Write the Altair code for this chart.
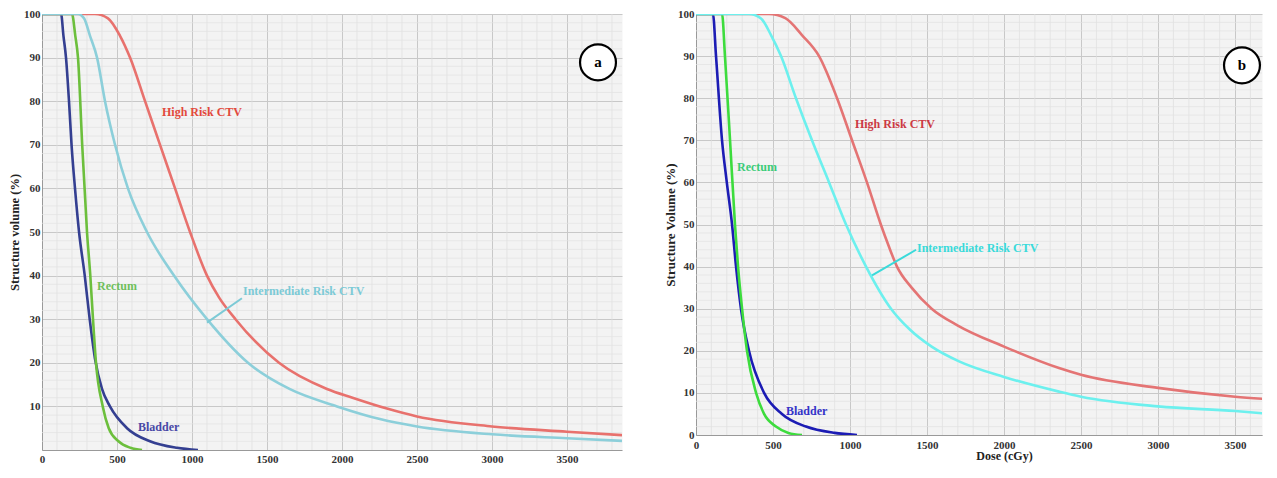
import altair as alt
import pandas as pd

# ---------------- Panel a data (dose cGy, structure volume %) ----------------
A_BLADDER_DOSE = [0, 127, 143, 160, 180, 197, 220, 247, 285, 318, 353, 400, 453, 567, 720, 900, 1040]
A_BLADDER_VOL = [100, 100, 95, 90, 80, 70, 60, 50, 40, 30, 21, 14, 10, 5, 2, 0.5, 0]
A_RECTUM_DOSE = [0, 200, 222, 240, 268, 300, 322, 340, 360, 405, 445, 510, 590, 667]
A_RECTUM_VOL = [100, 100, 95, 90, 70, 50, 40, 30, 20, 10, 5, 2, 0.5, 0]
A_HIGH_DOSE = [0, 353, 440, 520, 587, 687, 787, 887, 987, 1100, 1180, 1290, 1580, 1900, 2070, 2300, 2500, 3000, 3500, 3867]
A_HIGH_VOL = [100, 100, 99, 95, 90, 80, 70, 60, 50, 40, 35, 30, 20, 14, 12, 9.5, 7.7, 5.4, 4.2, 3.4]
A_INTER_DOSE = [0, 240, 280, 320, 367, 420, 487, 573, 700, 880, 1100, 1373, 1650, 1967, 2253, 2500, 3000, 3500, 3867]
A_INTER_VOL = [100, 100, 99, 95, 90, 80, 70, 60, 50, 40, 30, 20, 14, 10, 7.1, 5.4, 3.6, 2.7, 2.1]

# ---------------- Panel b data ----------------
B_BLADDER_DOSE = [0, 110, 130, 169, 200, 234, 260, 292, 344, 442, 558, 714, 900, 1045]
B_BLADDER_VOL = [100, 100, 90, 70, 60, 50, 40, 30, 20, 10, 5, 2, 0.5, 0]
B_RECTUM_DOSE = [0, 169, 188, 221, 253, 273, 299, 331, 390, 442, 519, 600, 688]
B_RECTUM_VOL = [100, 100, 90, 70, 50, 40, 30, 20, 10, 5, 2, 0.5, 0]
B_HIGH_DOSE = [0, 474, 580, 688, 799, 916, 1013, 1110, 1200, 1250, 1305, 1400, 1530, 1700, 2000, 2357, 2500, 3000, 3500, 3766]
B_HIGH_VOL = [100, 100, 99, 95, 90, 80, 70, 60, 50, 45, 40, 35, 30, 26, 21, 15.9, 14.3, 11.2, 9.1, 8.4]
B_INTER_DOSE = [0, 344, 420, 487, 552, 649, 753, 864, 974, 1104, 1266, 1390, 1530, 1708, 2000, 2357, 2500, 3000, 3500, 3766]
B_INTER_VOL = [100, 100, 99, 95, 90, 80, 70, 60, 50, 40, 30, 25, 21, 17.5, 13.8, 10.3, 9.1, 6.8, 5.7, 4.9]

# ---------------- Axis ticks ----------------
X_TICKS = [0, 500, 1000, 1500, 2000, 2500, 3000, 3500]
A_Y_TICKS = [10, 20, 30, 40, 50, 60, 70, 80, 90, 100]
B_Y_TICKS = [0, 10, 20, 30, 40, 50, 60, 70, 80, 90, 100]
X_MINOR = [v for v in range(100, 3900, 100) if v % 500 != 0]
Y_MINOR = [v for v in range(2, 100, 2) if v % 10 != 0]

# ---------------- Annotations ----------------
A_LABEL_TEXT = ["High Risk CTV", "Intermediate Risk CTV", "Rectum", "Bladder"]
A_LABEL_DOSE = [800, 1340, 367, 640]
A_LABEL_VOL = [77.6, 36.4, 37.6, 5.2]
A_LABEL_COLOR = ["#e2493c", "#7ccad6", "#6fbf5c", "#4848a6"]
A_POINTER = dict(d=[1100], v=[29.2], d2=[1333], v2=[34.8])

B_LABEL_TEXT = ["High Risk CTV", "Intermediate Risk CTV", "Rectum", "Bladder"]
B_LABEL_DOSE = [1032, 1435, 266, 584]
B_LABEL_VOL = [73.8, 44.3, 63.7, 5.6]
B_LABEL_COLOR = ["#cc3a44", "#3adada", "#3acc78", "#3434c8"]
B_POINTER = dict(d=[1143], v=[37.9], d2=[1429], v2=[44.0])

FONT = "Liberation Serif"


def panel(series, lab_text, lab_dose, lab_vol, lab_color, pointer, pointer_color,
          letter, letter_pos, xmax, yticks, width, height, ytitle, xtitle,
          ytitle_size, ytitle_pad, xlab_pad, xtitle_x):
    xs = alt.Scale(domain=[0, xmax], nice=False, zero=False)
    ys = alt.Scale(domain=[0, 100], nice=False, zero=False)
    xax_kw = dict(values=X_TICKS, grid=True, title=xtitle, labelFlush=False, format="d",
                  labelPadding=xlab_pad, ticks=False, titlePadding=0, titleFontSize=12)
    if xtitle_x is not None:
        xax_kw["titleX"] = xtitle_x
    xax = alt.Axis(**xax_kw)
    yax = alt.Axis(values=yticks, grid=True, title=ytitle, labelFlush=False, format="d",
                   labelPadding=2, ticks=False, titlePadding=ytitle_pad, titleFontSize=ytitle_size)
    layers = []
    # minor grid
    xminor = [v for v in X_MINOR if v < xmax]
    layers.append(alt.Chart(pd.DataFrame({"g": xminor})).mark_rule(
        color="#dedede", strokeWidth=0.7).encode(x=alt.X("g:Q", scale=xs, axis=xax)))
    layers.append(alt.Chart(pd.DataFrame({"g": Y_MINOR})).mark_rule(
        color="#e2e2e2", strokeWidth=0.7).encode(y=alt.Y("g:Q", scale=ys, axis=yax)))
    for dose, vol, color in series:
        df = pd.DataFrame({"dose": dose, "vol": vol})
        layers.append(alt.Chart(df).mark_line(color=color, strokeWidth=2.6, interpolate="monotone",
                                              clip=True).encode(
            x=alt.X("dose:Q", scale=xs, axis=xax),
            y=alt.Y("vol:Q", scale=ys, axis=yax),
        ))
    # pointer
    layers.append(alt.Chart(pd.DataFrame(pointer)).mark_rule(color=pointer_color, strokeWidth=2).encode(
        x=alt.X("d:Q", scale=xs, axis=xax), y=alt.Y("v:Q", scale=ys, axis=yax),
        x2="d2:Q", y2="v2:Q"))
    # labels
    ldf = pd.DataFrame({"t": lab_text, "d": lab_dose, "v": lab_vol, "c": lab_color})
    layers.append(alt.Chart(ldf).mark_text(font=FONT, fontWeight="bold", fontSize=12,
                                           align="left", baseline="middle").encode(
        x=alt.X("d:Q", scale=xs, axis=xax), y=alt.Y("v:Q", scale=ys, axis=yax),
        text="t:N", color=alt.Color("c:N", scale=None)))
    # letter circle
    cdf = pd.DataFrame({"t": [letter], "d": [letter_pos[0]], "v": [letter_pos[1]]})
    layers.append(alt.Chart(cdf).mark_circle(size=1290, color="white", opacity=1,
                                             stroke="black", strokeWidth=2.2).encode(
        x=alt.X("d:Q", scale=xs, axis=xax), y=alt.Y("v:Q", scale=ys, axis=yax)))
    layers.append(alt.Chart(cdf).mark_text(font=FONT, fontWeight="bold", fontSize=15,
                                           baseline="middle", color="black").encode(
        x=alt.X("d:Q", scale=xs, axis=xax), y=alt.Y("v:Q", scale=ys, axis=yax), text="t:N"))
    return alt.layer(*layers).properties(width=width, height=height)


pa = panel(
    [(A_BLADDER_DOSE, A_BLADDER_VOL, "#343f91"),
     (A_RECTUM_DOSE, A_RECTUM_VOL, "#6cbf3c"),
     (A_HIGH_DOSE, A_HIGH_VOL, "#e8716d"),
     (A_INTER_DOSE, A_INTER_VOL, "#8ccfda")],
    A_LABEL_TEXT, A_LABEL_DOSE, A_LABEL_VOL, A_LABEL_COLOR, A_POINTER, "#7ccad6",
    "a", (3707, 88.9), 3867, A_Y_TICKS, 580, 436, "Structure volume (%)", "",
    12.5, 2, 3, None)

pb = panel(
    [(B_BLADDER_DOSE, B_BLADDER_VOL, "#1c1cb4"),
     (B_RECTUM_DOSE, B_RECTUM_VOL, "#3ddc3d"),
     (B_HIGH_DOSE, B_HIGH_VOL, "#e47474"),
     (B_INTER_DOSE, B_INTER_VOL, "#6cf0ee")],
    B_LABEL_TEXT, B_LABEL_DOSE, B_LABEL_VOL, B_LABEL_COLOR, B_POINTER, "#3adada",
    "b", (3545, 87.8), 3675, B_Y_TICKS, 566, 421, "Structure Volume (%)", "Dose (cGy)",
    13, 0, 4, 308)

chart = alt.hconcat(pa, pb, spacing=41).properties(
    padding={"left": 0, "top": -1, "right": 0, "bottom": -1}
).configure_view(fill="#f3f3f3", stroke="transparent").configure_axis(
    labelFont=FONT, labelFontWeight="bold", labelFontSize=11, labelColor="#333333",
    titleFont=FONT, titleFontWeight="bold", titleColor="#222222",
    domainColor="#999999", gridColor="#c8c8c8", gridWidth=1,
)

chart.save("out.html", embed_options={"renderer": "svg", "actions": False})
